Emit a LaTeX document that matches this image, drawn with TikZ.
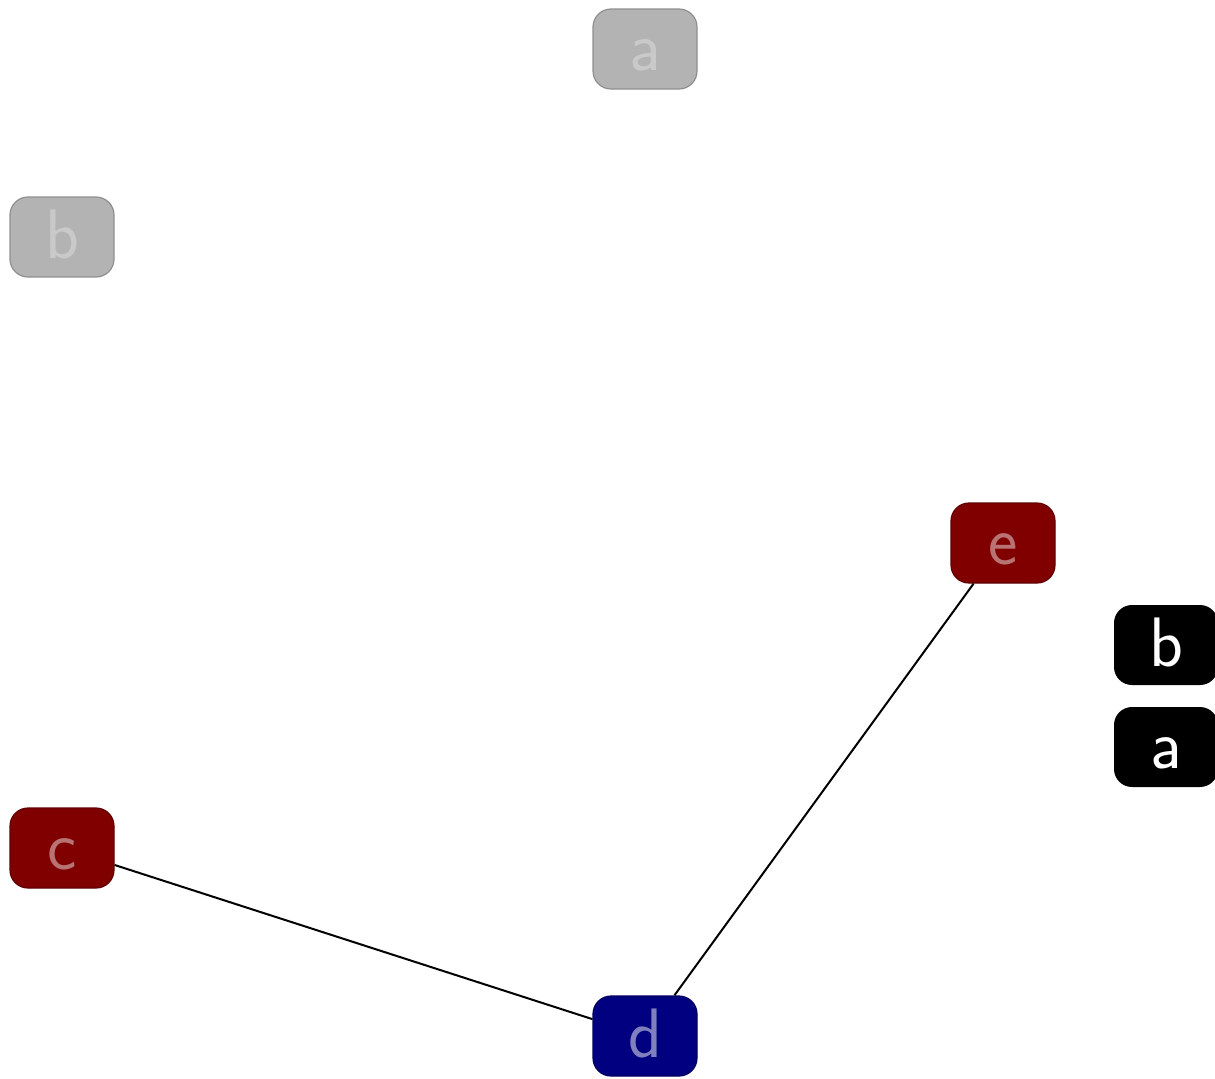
\documentclass[tikz,border=0pt]{standalone}
\usepackage{xcolor}
\usepackage{tikz}
\usetikzlibrary{positioning}
\definecolor{graph-gray}{HTML}{B3B3B3}
\definecolor{graph-red}{HTML}{800000}
\definecolor{graph-blue}{HTML}{000080}

\begin{document}
\begin{tikzpicture}[x=0.5pt, y=-0.5pt,
    vertexbox/.style={rounded corners=9pt, minimum width=52pt, minimum height=40pt,
        inner sep=0pt, text height=24pt, text depth=3pt,
        font=\sffamily\fontsize{35}{40}\selectfont, line width=0.6pt},
    faded/.style={vertexbox, fill=graph-gray, draw=graph-gray!80!black, text=white, text opacity=0.3},
    redv/.style={vertexbox, fill=graph-red, draw=graph-red!75!black, text=white, text opacity=0.45},
    bluev/.style={vertexbox, fill=graph-blue, draw=graph-blue!75!black, text=white, text opacity=0.5},
    keyv/.style={vertexbox, fill=black, text=white},
    link/.style={draw=black, line width=1pt}]
    \useasboundingbox (0,0) rectangle (1215,1078);
    % vertices
    \node[faded] (a) at (645,49) {a};
    \node[faded] (b) at (62,237) {b};
    \node[redv] (e) at (1003,543) {e};
    \node[redv] (c) at (62,848) {c};
    \node[bluev] (d) at (645,1036) {d};
    % legend
    \node[keyv] (keyb) at (1166,645) {b};
    \node[keyv] (keya) at (1166,747) {a};
    % edges
    \draw[link] (c) -- (d);
    \draw[link] (e) -- (d);
\end{tikzpicture}
\end{document}
